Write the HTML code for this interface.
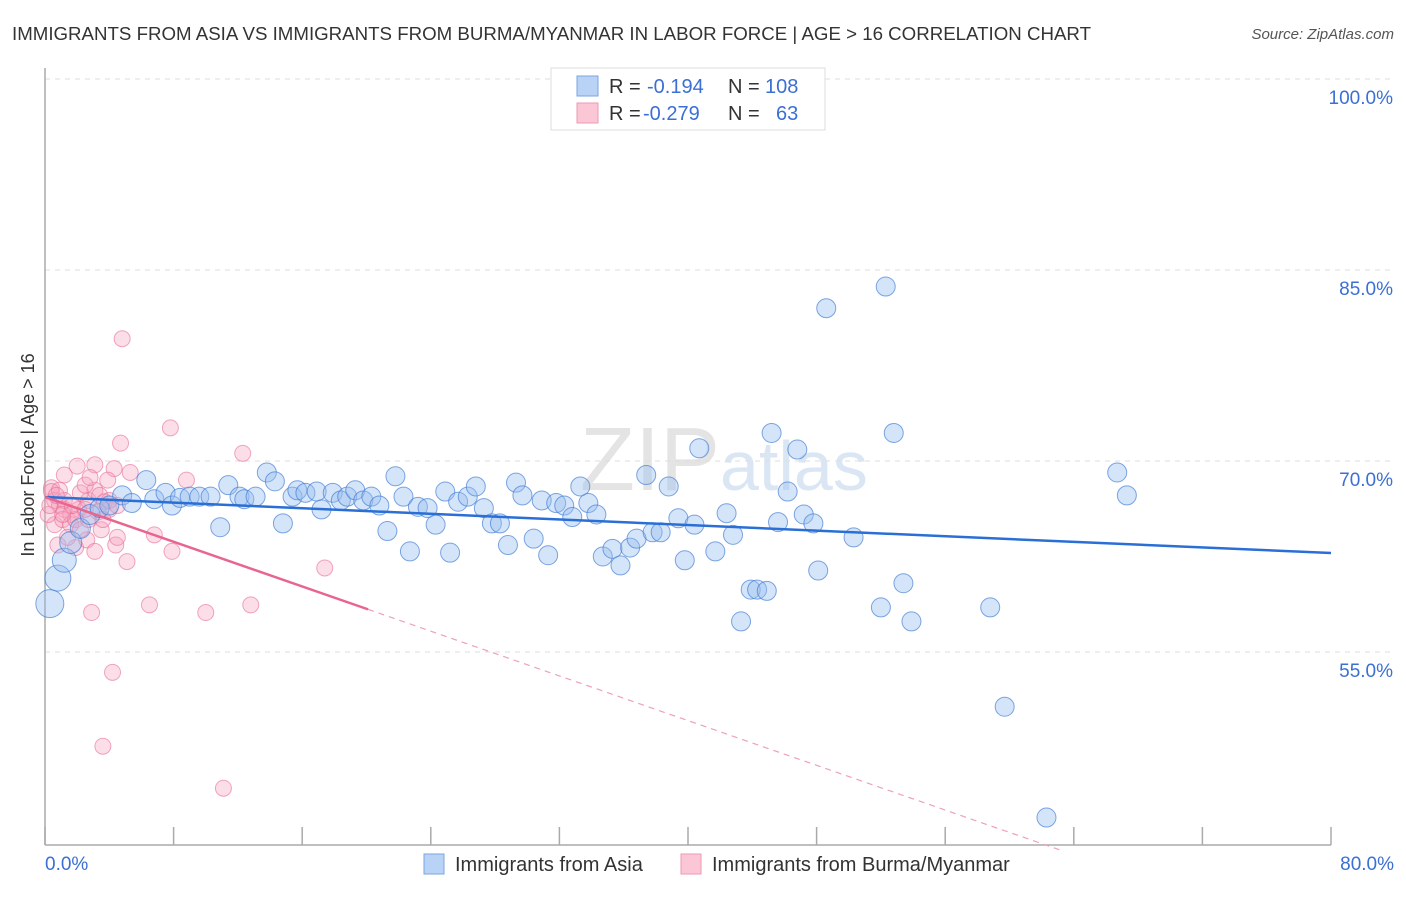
<!DOCTYPE html>
<html><head><meta charset="utf-8"><style>
body{margin:0;background:#fff;font-family:"Liberation Sans",sans-serif;}
svg text{font-family:"Liberation Sans",sans-serif;}
</style></head><body>
<svg id="chart" width="1406" height="892" xmlns="http://www.w3.org/2000/svg">
<text x="12" y="40" font-size="18" fill="#333" textLength="1079" lengthAdjust="spacingAndGlyphs">IMMIGRANTS FROM ASIA VS IMMIGRANTS FROM BURMA/MYANMAR IN LABOR FORCE | AGE &gt; 16 CORRELATION CHART</text>
<text x="1394" y="39" font-size="15" fill="#555" text-anchor="end" font-style="italic">Source: ZipAtlas.com</text>
<text x="720" y="490" font-size="90" fill="#e4e4e4" text-anchor="end" font-family="Liberation Serif">ZIP</text>
<text x="720" y="490" font-size="70" fill="#dbe6f5">atlas</text>
<g id="grid"></g>
<line x1="45" y1="68" x2="45" y2="845" stroke="#aaa" stroke-width="1.5"/>
<line x1="45" y1="845" x2="1331" y2="845" stroke="#aaa" stroke-width="1.5"/>
<g id="xticks"></g>
<text transform="translate(34,455) rotate(-90)" font-size="18" fill="#333" text-anchor="middle">In Labor Force | Age &gt; 16</text>
<text x="45" y="870" font-size="19" fill="#3b6fd4">0.0%</text>
<text x="1394" y="870" font-size="19" fill="#3b6fd4" text-anchor="end">80.0%</text>
<g id="pink"></g><g id="blue"></g><g id="trends"></g>
<g>
<rect x="551" y="68" width="274" height="62" fill="#fff" stroke="#ddd"/>
<rect x="577" y="76" width="21" height="20" fill="#b8d3f5" stroke="#7aa6e0"/>
<rect x="577" y="103" width="21" height="20" fill="#fbc6d5" stroke="#ec9ab3"/>
<text x="609" y="93" font-size="20" fill="#333">R = </text><text x="647" y="93" font-size="20" fill="#3b6fd4">-0.194</text>
<text x="728" y="93" font-size="20" fill="#333">N = </text><text x="765" y="93" font-size="20" fill="#3b6fd4">108</text>
<text x="609" y="120" font-size="20" fill="#333">R = </text><text x="643" y="120" font-size="20" fill="#3b6fd4">-0.279</text>
<text x="728" y="120" font-size="20" fill="#333">N = </text><text x="776" y="120" font-size="20" fill="#3b6fd4">63</text>
</g>
<g>
<rect x="424" y="854" width="20" height="20" fill="#b8d3f5" stroke="#7aa6e0"/>
<text x="455" y="871" font-size="20" fill="#333">Immigrants from Asia</text>
<rect x="681" y="854" width="20" height="20" fill="#fbc6d5" stroke="#ec9ab3"/>
<text x="712" y="871" font-size="20" fill="#333">Immigrants from Burma/Myanmar</text>
</g>
</svg>
<script>
const yTicks=[55,70,85,100];
const yTickLabels=["55.0%","70.0%","85.0%","100.0%"];
const xTicks=[0,8,16,24,32,40,48,56,64,72,80];
const blueX=[0.3,0.8,1.2,1.6,2.2,2.8,3.4,4.0,4.8,5.4,6.3,6.8,7.5,7.9,8.4,9.0,9.6,10.3,10.9,11.4,12.1,12.4,13.1,13.8,14.3,14.8,15.4,15.7,16.2,16.9,17.2,17.9,18.4,18.8,19.3,19.8,20.3,20.8,21.3,21.8,22.3,22.7,23.2,23.8,24.3,24.9,25.2,25.7,26.3,26.8,27.3,27.8,28.3,28.8,29.3,29.7,30.4,30.9,31.3,31.8,32.3,32.8,33.3,33.8,34.3,34.7,35.3,35.8,36.4,36.8,37.4,37.8,38.3,38.8,39.4,39.8,40.4,40.7,41.7,42.4,42.8,43.9,44.3,44.9,43.3,45.2,45.6,46.2,46.8,47.2,47.8,48.1,48.6,50.3,52.0,52.3,52.8,53.4,53.9,58.8,59.7,62.3,66.7,67.3];
const blueY=[58.8,60.8,62.2,63.6,64.7,65.8,66.3,66.5,67.3,66.7,68.5,67.0,67.5,66.5,67.1,67.2,67.2,67.2,64.8,68.1,67.2,67.0,67.2,69.1,68.4,65.1,67.2,67.7,67.5,67.6,66.2,67.5,66.9,67.2,67.7,66.9,67.2,66.5,64.5,68.8,67.2,62.9,66.4,66.3,65.0,67.6,62.8,66.8,67.2,68.0,66.3,65.1,65.1,63.4,68.3,67.3,63.9,66.9,62.6,66.7,66.5,65.6,68.0,66.7,65.8,62.5,63.1,61.8,63.2,63.9,68.9,64.4,64.4,68.0,65.5,62.2,65.0,71.0,62.9,65.9,64.2,59.9,59.9,59.8,57.4,72.2,65.2,67.6,70.9,65.8,65.1,61.4,82.0,64.0,58.5,83.7,72.2,60.4,57.4,58.5,50.7,42.0,69.1,67.3];
const blueSize=[14,13,12,11,10,10,9.5,9.5,9.5,9.5,9.5,9.5,9.5];
const pinkX=[4.8,4.7,7.8,12.3,8.8,5.3,4.3,3.1,2.0,1.2,0.4,0.4,0.6,0.9,1.2,1.6,2.1,2.7,3.1,3.4,3.7,4.0,0.6,1.1,1.6,0.8,1.9,2.6,3.1,3.5,4.4,4.5,5.1,6.8,7.9,2.9,6.5,10.0,12.8,17.4,4.2,3.6,11.1,0.2,0.3,0.9,2.2,2.5,1.9,2.2,2.7,4.0,4.5,1.2,3.3,3.6,0.7,1.1,1.7,2.5,1.4,3.9,2.8];
const pinkY=[79.6,71.4,72.6,70.6,68.5,69.1,69.4,69.7,69.6,68.9,67.9,67.6,66.9,66.5,66.2,65.8,66.2,66.9,67.7,67.3,66.8,66.2,65.0,65.4,65.0,63.4,63.2,63.8,62.9,64.6,63.4,64.0,62.1,64.2,62.9,58.1,58.7,58.1,58.7,61.6,53.4,47.6,44.3,65.8,66.5,67.7,67.5,68.1,65.4,64.6,65.4,66.9,66.5,66.9,66.0,65.4,67.3,65.8,66.5,66.2,64.0,68.5,68.7];
const blueTrend=[67.17,62.77];
const pinkTrend=[67.17,-0.439];
const pinkSolidEnd=20.1, pinkDashEnd=63.1;

const NS="http://www.w3.org/2000/svg";
const X=v=>45+v/80*1286;
const Y=v=>79+(100-v)*12.733;
function mk(tag,at,parent){const e=document.createElementNS(NS,tag);for(const k in at)e.setAttribute(k,at[k]);document.getElementById(parent).appendChild(e);return e;}
yTicks.forEach((t,i)=>{
  const l=mk('line',{x1:45,x2:1394,y1:Y(t),y2:Y(t),stroke:'#ddd','stroke-dasharray':'5,5'},'grid');
  
  
  const tx=mk('text',{x:1393,y:Y(t)+25,'font-size':19,fill:'#3b6fd4','text-anchor':'end'},'grid');
  tx.textContent=yTickLabels[i];
  
  
});
xTicks.forEach(t=>{
  const l=mk('line',{x1:X(t),x2:X(t),y1:827,y2:845,stroke:'#aaa','stroke-width':1.5},'xticks');
  
  
});
pinkX.forEach((v,i)=>{
  const c=mk('circle',{cx:X(v),cy:Y(pinkY[i]),r:8,fill:'rgba(246,160,188,0.35)',stroke:'rgba(232,110,150,0.6)','stroke-width':1},'pink');
  
  
});
blueX.forEach((v,i)=>{
  const c=mk('circle',{cx:X(v),cy:Y(blueY[i]),r:blueSize[i]||9.5,fill:'rgba(150,190,240,0.4)',stroke:'rgba(60,120,210,0.65)','stroke-width':1},'blue');
  
  
});
const b=mk('line',{x1:X(0),y1:Y(blueTrend[0]),x2:X(80),y2:Y(blueTrend[1]),stroke:'#2a6fd6','stroke-width':2.5},'trends');


const p=mk('line',{x1:X(0),y1:Y(pinkTrend[0]),x2:X(pinkSolidEnd),y2:Y(pinkTrend[0]+pinkTrend[1]*pinkSolidEnd),stroke:'#e8658f','stroke-width':2.5},'trends');


const pd=mk('line',{x1:X(pinkSolidEnd),y1:Y(pinkTrend[0]+pinkTrend[1]*pinkSolidEnd),x2:X(pinkDashEnd),y2:Y(pinkTrend[0]+pinkTrend[1]*pinkDashEnd),stroke:'#eea0b8','stroke-width':1.2,'stroke-dasharray':'6,5'},'trends');


</script>
</body></html>
